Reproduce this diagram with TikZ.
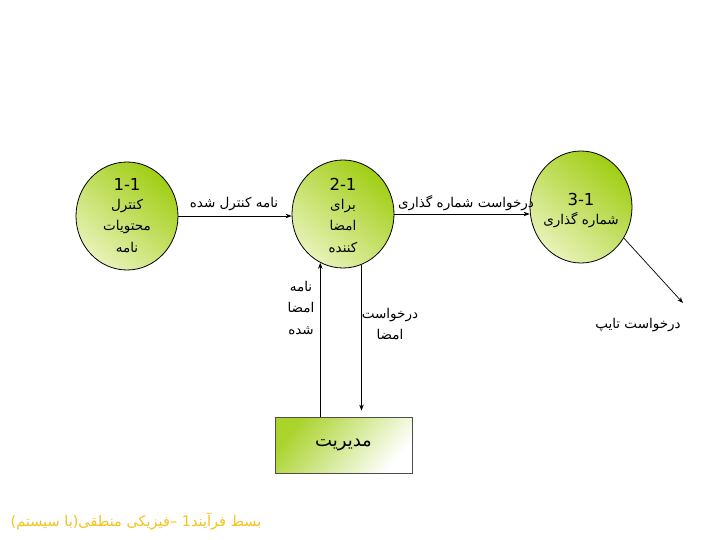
\documentclass[tikz,border=0pt]{standalone}
\usepackage{fontspec}
\setmainfont{DejaVu Sans}
\newfontfamily\ar[Script=Arabic]{DejaVu Sans}
\TeXXeTstate=1
\usetikzlibrary{shapes.geometric,arrows.meta}
\definecolor{gdark}{RGB}{160,206,20}
\definecolor{glight}{RGB}{232,242,184}
\definecolor{capcol}{RGB}{242,196,30}
\tikzset{
  proc/.style={ellipse,draw=black,line width=0.8pt,inner sep=0pt,
    top color=gdark,bottom color=glight,shading angle=-40},
  store/.style={rectangle,draw=black!70,line width=0.8pt,inner sep=0pt,
    minimum width=137pt,minimum height=56pt,
    top color=gdark!90,bottom color=white,shading angle=50},
  flow/.style={line width=0.7pt,-{Stealth[length=6pt,width=4.5pt]}},
  lbl/.style={font=\ar\fontsize{13.5}{21.5}\selectfont,inner sep=0pt,align=center},
  num/.style={font=\fontsize{16.5}{18}\selectfont,inner sep=0pt},
}
\begin{document}
\begin{tikzpicture}[x=1pt,y=-1pt]
\useasboundingbox[fill=white] (0,0) rectangle (720,540);
% processes
\node[proc,minimum width=102pt,minimum height=108pt] (c1) at (127,216) {};
\node[proc,minimum width=102pt,minimum height=108pt] (c2) at (343,214) {};
\node[proc,minimum width=102pt,minimum height=112pt] (c3) at (581,207) {};
\node[store] (box) at (343.5,445) {};
% texts in circles
\node[num] (n1) at (127,184) {1-1};
\node[lbl] (t1) at (127,226) {\beginR کنترل\endR\\\beginR محتویات\endR\\\beginR نامه\endR};
\node[num] (n2) at (343,184) {2-1};
\node[lbl] (t2) at (343,226) {\beginR برای\endR\\\beginR امضا\endR\\\beginR کننده\endR};
\node[num] (n3) at (581,199) {3-1};
\node[lbl] (t3) at (581,220) {\beginR شماره گذاری\endR};
\node[lbl,font=\ar\fontsize{18}{20}\selectfont] (tb) at (box) {\beginR مدیریت\endR};
% free end
\coordinate (tp) at (683,303);
% flows
\draw[flow] (c1.east) -- (c1.east -| c2.west);
\draw[flow] (c2.east) -- (c2.east -| c3.west);
\draw[flow] (c3.-36) -- (tp);
\draw[flow] (c2.245 |- box.north) -- (c2.245);
\draw[flow] (c2.290) -- ([yshift=6pt]c2.290 |- box.north);
% flow labels
\node[lbl] (l1) at (234,204) {\beginR نامه کنترل شده\endR};
\node[lbl] (l2) at (466,203) {\beginR درخواست شماره گذاری\endR};
\node[lbl] (l3) at (638,325) {\beginR درخواست تایپ\endR};
\node[lbl] (l4) at (301,308) {\beginR نامه\endR\\\beginR امضا\endR\\\beginR شده\endR};
\node[lbl] (l5) at (390,324) {\beginR درخواست\endR\\\beginR امضا\endR};
% caption
\node[lbl,text=capcol,font=\ar\fontsize{14.5}{16}\selectfont] (cap) at (136,521) {\beginR بسط فرآیند1 –فیزیکی منطقی(با سیستم)\endR};
\end{tikzpicture}
\end{document}
